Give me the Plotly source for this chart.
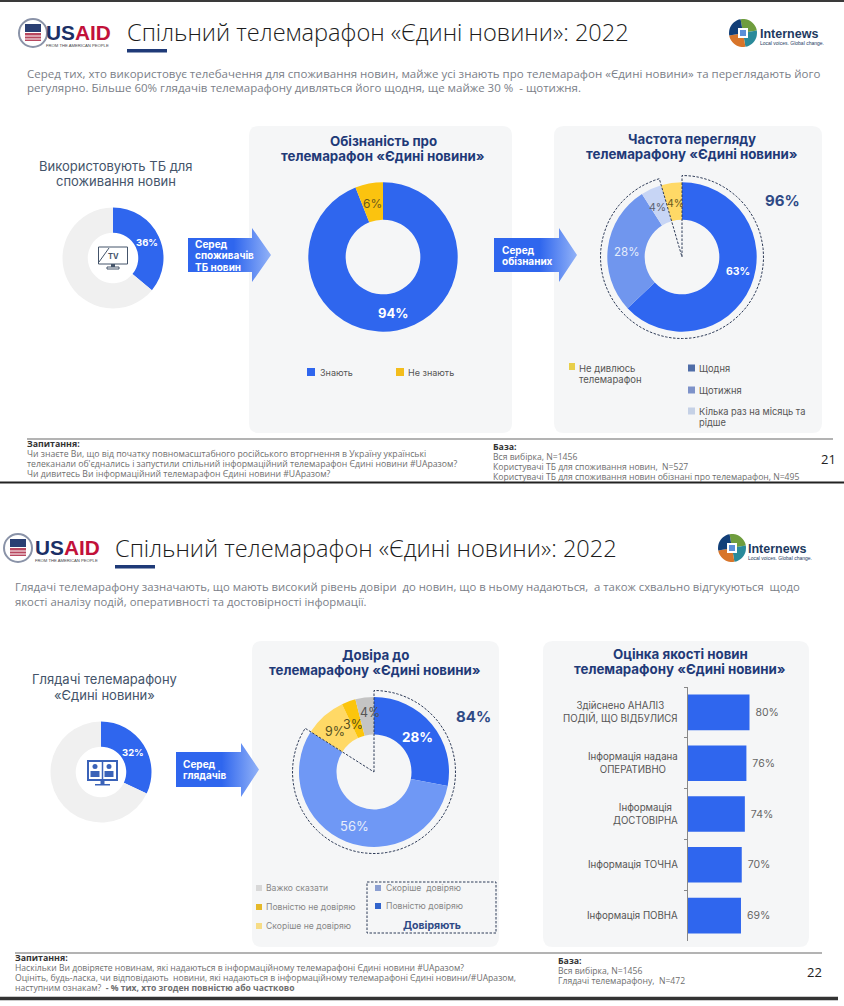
import math
import plotly.graph_objects as go

# ---------- data ----------
TV_LABELS = ["Використовують ТБ", "Інші"]
TV_VALUES = [36, 64]
AWARE_LABELS = ["Знають", "Не знають"]
AWARE_VALUES = [94, 6]
FREQ_LABELS = ["Щодня", "Щотижня", "Кілька раз на місяць та рідше", "Не дивлюсь телемарафон"]
FREQ_VALUES = [63, 28, 4.5, 4.5]
FREQ_TEXT = ["63%", "28%", "4%", "4%"]
VIEW_LABELS = ["Глядачі", "Інші"]
VIEW_VALUES = [32, 68]
TRUST_LABELS = ["Повністю довіряю", "Скоріше довіряю", "Скоріше не довіряю", "Повністю не довіряю", "Важко сказати"]
TRUST_VALUES = [28, 56, 9, 3, 4]
QUALITY_CATS = ["Здійснено АНАЛІЗ<br>ПОДІЙ, ЩО ВІДБУЛИСЯ", "Інформація надана<br>ОПЕРАТИВНО",
                "Інформація<br>ДОСТОВІРНА", "Інформація ТОЧНА", "Інформація ПОВНА"]
QUALITY_VALUES = [80, 76, 74, 70, 69]

W, H = 844, 1006
BODY = "Inter"
HEAD = "Open Sans"
BLUE = "#2f66ee"
NAVY = "#1f3a78"
GREYTXT = "#7b8088"
PANEL = "#f5f6f7"

fig = go.Figure()
shapes, notes = [], []


def T(x, y, text, size=10, color="#555", anchor="left", font=BODY, align=None, weight=None):
    f = dict(size=size, color=color, family=font)
    if weight:
        f["weight"] = weight
    notes.append(dict(x=x, y=y, xref="x", yref="y", text=text, showarrow=False,
                      xanchor=anchor, yanchor="middle", align=align or anchor,
                      font=f, borderpad=0, borderwidth=0))


def panel(x0, y0, x1, y1, r=10):
    p = (f"M{x0+r},{y0} L{x1-r},{y0} Q{x1},{y0} {x1},{y0+r} L{x1},{y1-r} Q{x1},{y1} {x1-r},{y1} "
         f"L{x0+r},{y1} Q{x0},{y1} {x0},{y1-r} L{x0},{y0+r} Q{x0},{y0} {x0+r},{y0} Z")
    shapes.append(dict(type="path", path=p, xref="x", yref="y", fillcolor=PANEL, line_width=0, layer="below"))


def rect(x0, y0, x1, y1, fill=None, line=None, lw=1, dash=None, layer="above"):
    shapes.append(dict(type="rect", x0=x0, y0=y0, x1=x1, y1=y1, xref="x", yref="y",
                       fillcolor=fill or "rgba(0,0,0,0)",
                       line=dict(color=line or "rgba(0,0,0,0)", width=lw if line else 0, dash=dash or "solid"),
                       layer=layer))


def hline(x0, x1, y, color, lw):
    shapes.append(dict(type="line", x0=x0, x1=x1, y0=y, y1=y, xref="x", yref="y",
                       line=dict(color=color, width=lw), layer="above"))


def pie(cx, cy, r, labels, values, colors, hole):
    fig.add_trace(go.Pie(labels=labels, values=values, sort=False, direction="clockwise", rotation=0, hole=hole,
                         marker=dict(colors=colors, line=dict(width=0)), textinfo="none", showlegend=False,
                         domain=dict(x=[(cx-r)/W, (cx+r)/W], y=[1-(cy+r)/H, 1-(cy-r)/H])))


def dashed_arc(cx, cy, r, share):
    """Dashed outline: centre -> top -> clockwise arc over the share -> centre."""
    end = share*360
    pts = [(cx + r*math.sin(math.radians(end*i/90)), cy - r*math.cos(math.radians(end*i/90))) for i in range(91)]
    p = f"M{cx},{cy} " + " ".join(f"L{x:.1f},{y:.1f}" for x, y in pts) + " Z"
    shapes.append(dict(type="path", path=p, xref="x", yref="y", fillcolor="rgba(0,0,0,0)",
                       line=dict(color="#2f3c58", width=1, dash="2.5px,1.5px"), layer="above"))


def arrow(x0, x1, xh, y0, y1, yh0, yh1):
    ym = (y0+y1)/2
    fig.add_trace(go.Scatter(x=[x0, x1, x1, xh, x1, x1, x0, x0], y=[y0, y0, yh0, ym, yh1, y1, y1, y0],
                             fill="toself", mode="lines", line=dict(width=0), hoverinfo="skip", showlegend=False,
                             fillgradient=dict(type="horizontal",
                                               colorscale=[[0, BLUE], [0.55, BLUE], [1, "#92b2f7"]]),
                             xaxis="x", yaxis="y"))


def usaid(cx, cy, tx):
    shapes.append(dict(type="circle", x0=cx-14, x1=cx+14, y0=cy-14, y1=cy+14, xref="x", yref="y",
                       fillcolor="#ffffff", line=dict(color="#8a93a8", width=2)))
    rect(cx-8, cy-9, cx+8, cy-1, fill="#2a3f73")
    rect(cx-8, cy, cx+8, cy+8, fill="#b8475f")
    rect(cx-8, cy+2.5, cx+8, cy+3.5, fill="#ffffff")
    rect(cx-8, cy+5.5, cx+8, cy+6.5, fill="#ffffff")
    T(tx, cy-1, "<b><span style='color:#1b2f66'>US</span><span style='color:#c2113a'>AID</span></b>", 20.8, "#1b2f66", font="Liberation Sans")
    T(tx, cy+12.5, "FROM THE AMERICAN PEOPLE", 4.2, "#444", font="Liberation Sans")


def internews(cx, cy, tx):
    arcs = [(-10, 80, "#6f9d3e"), (80, 170, "#2a8a9a"), (170, 260, "#d8752a"), (260, 350, "#123f78")]
    for a0, a1, col in arcs:
        pts = []
        for i in range(13):
            a = math.radians(a0+(a1-a0)*i/12)
            pts.append((cx+14*math.sin(a), cy-14*math.cos(a)))
        for i in range(12, -1, -1):
            a = math.radians(a0+(a1-a0)*i/12)
            pts.append((cx+5*math.sin(a), cy-5*math.cos(a)))
        p = "M" + " L".join(f"{x:.1f},{y:.1f}" for x, y in pts) + " Z"
        shapes.append(dict(type="path", path=p, xref="x", yref="y", fillcolor=col, line_width=0))
    rect(cx-5, cy-5, cx+5, cy+5, fill="#ffffff")
    rect(cx-3, cy-3, cx+3, cy+3, fill="#5b8fd8")
    T(tx, cy+1, "<b>Internews</b>", 12.5, "#1d3a5f", font="Liberation Sans")
    T(tx, cy+10, "Local voices. Global change.", 5, "#1d3a5f", font="Liberation Sans")


def legend(x, y, color, text, size=8, tx=None, tsize=9, tcolor="#555"):
    rect(x, y-size/2, x+size, y+size/2, fill=color)
    T(tx if tx is not None else x+size+4, y, text, tsize, tcolor)


# ---------- slide frames ----------
hline(0, W, 1, "#3a3a3a", 2)
hline(0, W, 482.5, "#222222", 2)
hline(0, 838, 998.5, "#333333", 3.5)

# ---------- slide 21 ----------
usaid(33, 33, 46)
T(127, 32, "Спільний телемарафон «Єдині новини»: 2022", 23.6, "#1c1c1c", font=HEAD, weight=300)
rect(127, 49, 167, 52.5, fill=NAVY)
internews(743, 33, 760)
T(27, 73, "Серед тих, хто використовує телебачення для споживання новин, майже усі знають про телемарафон «Єдині новини» та переглядають його", 11.5, GREYTXT, font=HEAD)
T(27, 87, "регулярно. Більше 60% глядачів телемарафону дивляться його щодня, ще майже 30 %  - щотижня.", 11.5, GREYTXT, font=HEAD)

panel(249, 126, 512, 433)
panel(554, 126, 822, 433)

T(116, 166, "Використовують ТБ для", 13, "#44546a", "center")
T(116, 181, "споживання новин", 13, "#44546a", "center")
pie(113, 258, 50.5, TV_LABELS, TV_VALUES, [BLUE, "#f0f0f0"], 0.5)
T(147, 242, f"<b>{TV_VALUES[0]}%</b>", 9.5, "#ffffff", "center")
# TV icon
rect(98.5, 247, 127.5, 264, line="#44546a", lw=1)
shapes.append(dict(type="line", x0=99, y0=262, x1=109, y1=248, xref="x", yref="y", line=dict(color="#44546a", width=1)))
T(113, 256, "<b>TV</b>", 7.5, "#44546a", "center")
rect(111, 264, 115, 267, fill="#44546a")
rect(107, 267, 119, 269, line="#44546a", lw=1)

arrow(188, 252, 271, 238, 272, 228, 282)
for yy, s in zip([244, 255, 267], ["Серед", "споживачів", "ТБ новин"]):
    T(195, yy, f"<b>{s}</b>", 10, "#ffffff")

T(383, 141, "<b>Обізнаність про</b>", 13.3, NAVY, "center")
T(383, 156, "<b>телемарафон «Єдині новини»</b>", 13.3, NAVY, "center")
pie(383, 257, 74.7, AWARE_LABELS, AWARE_VALUES, [BLUE, "#fbc30f"], 0.5)
T(393, 313, f"<b>{AWARE_VALUES[0]}%</b>", 13, "#ffffff", "center")
T(372, 203, f"{AWARE_VALUES[1]}%", 12, "#6b5a1c", "center")
legend(307, 372, BLUE, "Знають", tx=320)
legend(396, 372, "#f3bd1c", "Не знають", tx=408)

arrow(494, 559, 577, 238, 272, 228, 282)
T(502, 250, "<b>Серед</b>", 10, "#ffffff")
T(502, 261, "<b>обізнаних</b>", 10, "#ffffff")

T(692, 139, "<b>Частота перегляду</b>", 13.3, NAVY, "center")
T(692, 154, "<b>телемарафону «Єдині новини»</b>", 13.3, NAVY, "center")
pie(682, 257, 74.7, FREQ_LABELS, FREQ_VALUES, ["#2f66f0", "#7096ee", "#c7d5f5", "#ffd966"], 0.5)
dashed_arc(682, 257, 81.5, (FREQ_VALUES[0]+FREQ_VALUES[1]+FREQ_VALUES[2])/sum(FREQ_VALUES))
T(738, 271, f"<b>{FREQ_TEXT[0]}</b>", 10.5, "#ffffff", "center")
T(626, 252, FREQ_TEXT[1], 11.5, "#e6edfb", "center")
T(657.5, 207, FREQ_TEXT[2], 10.5, "#5a6070", "center")
T(675, 203, FREQ_TEXT[3], 10.5, "#6b5a1c", "center")
T(782, 200, "<b>96%</b>", 15, "#2f4a86", "center")

rect(569, 363, 575, 370, fill="#e8cf4a")
T(579, 368, "Не дивлюсь", 9.5, "#555")
T(579, 379, "телемарафон", 9.5, "#555")
legend(688, 368, "#4f6da8", FREQ_LABELS[0], size=7, tx=699, tsize=9.3)
legend(688, 390, "#7d92c9", FREQ_LABELS[1], size=7, tx=699, tsize=9.3)
legend(688, 411, "#c5d1e6", "Кілька раз на місяць та", size=7, tx=699, tsize=9.3)
T(699, 422, "рідше", 9.3, "#555")

hline(27, 833, 439, "#9a9a9a", 1.5)
T(27, 444, "<b>Запитання:</b>", 8.8, "#333", font=HEAD)
for yy, s in zip([454, 464, 474],
                 ["Чи знаєте Ви, що від початку повномасштабного російського вторгнення в Україну українські",
                  "телеканали об'єднались і запустили спільний інформаційний телемарафон Єдині новини #UАразом?",
                  "Чи дивитесь Ви інформаційний телемарафон Єдині новини #UАразом?"]):
    T(27, yy, s, 8.7, "#6e6e6e", font=HEAD)
T(493, 447, "<b>База:</b>", 8.8, "#333", font=HEAD)
for yy, s in zip([457, 467, 477],
                 ["Вся вибірка, N=1456", "Користувачі ТБ для споживання новин,  N=527",
                  "Користувачі ТБ для споживання новин обізнані про телемарафон, N=495"]):
    T(493, yy, s, 8.6, "#6e6e6e", font=HEAD)
T(828, 459, "21", 13, "#222", "center", font=HEAD)

# ---------- slide 22 ----------
usaid(18, 548, 35)
T(115, 548, "Спільний телемарафон «Єдині новини»: 2022", 23.6, "#1c1c1c", font=HEAD, weight=300)
rect(115, 565, 155, 568.5, fill=NAVY)
internews(732, 548, 748)
T(15, 586, "Глядачі телемарафону зазначають, що мають високий рівень довіри  до новин, що в ньому надаються,  а також схвально відгукуються  щодо", 11.3, GREYTXT, font=HEAD)
T(15, 601, "якості аналізу подій, оперативності та достовірності інформації.", 11.3, GREYTXT, font=HEAD)

panel(252, 641, 499, 947)
panel(543, 641, 809, 947)

T(104, 679, "Глядачі телемарафону", 13, "#44546a", "center")
T(104, 695, "«Єдині новини»", 13, "#44546a", "center")
pie(101, 772, 50.5, VIEW_LABELS, VIEW_VALUES, [BLUE, "#f0f0f0"], 0.5)
T(133, 752, f"<b>{VIEW_VALUES[0]}%</b>", 9.5, "#ffffff", "center")
# viewers icon
rect(88, 761, 117, 780, line="#3a62b8", lw=2)
shapes.append(dict(type="line", x0=102.5, x1=102.5, y0=761, y1=780, xref="x", yref="y", line=dict(color="#3a62b8", width=1.5)))
for px in (95, 109):
    shapes.append(dict(type="circle", x0=px-2.5, x1=px+2.5, y0=764, y1=769, xref="x", yref="y", fillcolor="#3a62b8", line_width=0))
    rect(px-4.5, 771, px+4.5, 777, fill="#3a62b8")
rect(100.5, 780, 104.5, 784, fill="#3a62b8")
rect(95, 784, 110, 785.5, fill="#3a62b8")

arrow(176, 241, 259, 752, 787, 743, 797)
T(183, 764, "<b>Серед</b>", 10, "#ffffff")
T(183, 775, "<b>глядачів</b>", 10, "#ffffff")

T(375, 655, "<b>Довіра до</b>", 13.3, NAVY, "center")
T(375, 670, "<b>телемарафону «Єдині новини»</b>", 13.3, NAVY, "center")
pie(374, 772, 75, TRUST_LABELS, TRUST_VALUES, [BLUE, "#6f98f5", "#ffd966", "#fcc50c", "#c4c4c4"], 0.5)
dashed_arc(374, 772, 81.5, (TRUST_VALUES[0]+TRUST_VALUES[1])/sum(TRUST_VALUES))
T(417, 737, f"<b>{TRUST_VALUES[0]}%</b>", 13.5, "#ffffff", "center")
T(354, 826, f"{TRUST_VALUES[1]}%", 13, "#e6edfb", "center")
T(335, 731, f"{TRUST_VALUES[2]}%", 12.5, "#55501f", "center")
T(353, 724, f"{TRUST_VALUES[3]}%", 12.5, "#55501f", "center")
T(370, 712, f"{TRUST_VALUES[4]}%", 12.5, "#555", "center")
T(473, 716, "<b>84%</b>", 15, "#2f4a86", "center")

legend(256, 888, "#d8d8d8", TRUST_LABELS[4], size=6, tx=266, tsize=8.6, tcolor="#888")
legend(256, 907, "#e5b92a", TRUST_LABELS[3], size=6, tx=266, tsize=8.6, tcolor="#888")
legend(256, 926, "#f6dc86", TRUST_LABELS[2], size=6, tx=266, tsize=8.6, tcolor="#888")
legend(375, 888, "#8b9fd1", "Скоріше  довіряю", size=6, tx=386, tsize=8.6, tcolor="#888")
legend(375, 906, "#3264cc", TRUST_LABELS[0], size=6, tx=386, tsize=8.6, tcolor="#888")
rect(367, 882, 496, 933, line="#2f3c58", lw=1, dash="2.5px,1.5px")
T(432, 925, "<b>Довіряють</b>", 10.5, "#2f4a86", "center")

T(680, 654, "<b>Оцінка якості новин</b>", 13.3, NAVY, "center")
T(680, 669, "<b>телемарафону «Єдині новини»</b>", 13.3, NAVY, "center")

fig.add_trace(go.Bar(x=QUALITY_VALUES, y=QUALITY_CATS, orientation="h", marker=dict(color=BLUE, line_width=0), width=0.7,
                     text=[f"\u00a0{v}%" for v in QUALITY_VALUES], textposition="outside", cliponaxis=False,
                     textfont=dict(size=10.5, color="#666", family=BODY), hoverinfo="skip", showlegend=False,
                     xaxis="x2", yaxis="y2"))
for c in QUALITY_CATS:
    notes.append(dict(x=679, y=c, xref="x", yref="y2", text=c, showarrow=False, xanchor="right", yanchor="middle",
                      align="center", font=dict(size=9.7, color="#555", family=BODY), borderpad=0))

hline(15, 822, 953, "#9a9a9a", 1.5)
T(15, 958, "<b>Запитання:</b>", 8.8, "#333", font=HEAD)
for yy, s in zip([968, 978, 988],
                 ["Наскільки Ви довіряєте новинам, які надаються в інформаційному телемарафоні Єдині новини #UАразом?",
                  "Оцініть, будь-ласка, чи відповідають  новини, які надаються в інформаційному телемарафоні Єдині новини/#UАразом,",
                  "наступним ознакам?  <b>- % тих, хто згоден повністю або частково</b>"]):
    T(15, yy, s, 8.6, "#6e6e6e", font=HEAD)
T(558, 961, "<b>База:</b>", 8.8, "#333", font=HEAD)
T(558, 971, "Вся вибірка, N=1456", 8.6, "#6e6e6e", font=HEAD)
T(558, 981, "Глядачі телемарафону,  N=472", 8.6, "#6e6e6e", font=HEAD)
T(814, 972, "22", 13, "#222", "center", font=HEAD)

# ---------- layout ----------
BX0, BX1, BY0, BY1 = 687.5, 800, 687, 941
fig.update_layout(
    width=W, height=H, margin=dict(l=0, r=0, t=0, b=0, pad=0), autosize=False,
    paper_bgcolor="#ffffff", plot_bgcolor="rgba(0,0,0,0)", shapes=shapes, annotations=notes,
    hovermode=False, bargap=0.3,
    xaxis=dict(range=[0, W], domain=[0, 1], visible=False, fixedrange=True),
    yaxis=dict(range=[H, 0], domain=[0, 1], visible=False, fixedrange=True),
    xaxis2=dict(domain=[BX0/W, BX1/W], range=[0, (BX1-BX0)/0.775], visible=False, anchor="y2", fixedrange=True),
    yaxis2=dict(domain=[1-BY1/H, 1-BY0/H], autorange="reversed", anchor="x2", type="category",
                categoryorder="array", categoryarray=QUALITY_CATS, showticklabels=False, tickson="boundaries",
                ticks="outside", ticklen=3, tickcolor="#888", tickwidth=1, showline=True, linecolor="#888",
                linewidth=1, showgrid=False, zeroline=False, fixedrange=True),
)
fig.write_html("out.html", config=dict(displayModeBar=False),
               post_script="document.body.style.margin='0';document.body.style.background='#fff';")
